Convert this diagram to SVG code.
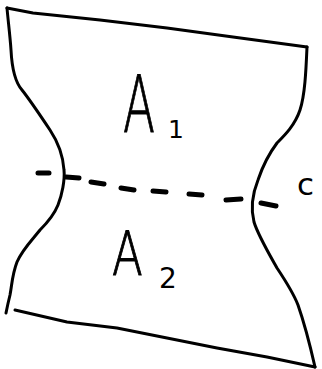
<svg xmlns="http://www.w3.org/2000/svg" width="322" height="369" viewBox="0 0 322 369">
<style>
.edge{fill:none;stroke:#000;stroke-width:3;stroke-linecap:round;stroke-linejoin:round}
.cut{fill:none;stroke:#000;stroke-width:5;stroke-linecap:round}
.big{font-family:"DejaVu Sans","Liberation Sans",sans-serif;font-weight:200;fill:#000;stroke:#000;stroke-width:1}
.small{font-family:"DejaVu Sans","Liberation Sans",sans-serif;font-weight:normal;fill:#000}
</style>
<rect width="322" height="369" fill="#fff"/>
<g id="outline">
<path class="edge" d="M7,8 L33,13 L100,20 L167,28 L233,37 L307,47"/>
<path class="edge" d="M307,47 C306,70 305,95 300,110 C295,125 285,135 277,143 C268,155 262,168 258,180 C252,195 251,210 254,222 C258,235 268,252 277,268 C285,280 293,292 298,305 C305,325 310,345 315,367"/>
<path class="edge" d="M15,310 L67,322 L117,328 L167,338 L217,348 L267,357 L315,367"/>
<path class="edge" d="M7,8 C8,20 10,35 11,50 C12,70 15,82 22,90 C30,100 40,115 50,130 C58,142 63,155 64,170 C65,180 62,195 58,205 C54,215 48,222 40,230 C32,240 22,250 17,262 C12,275 12,285 10,295 C8,303 7,308 6,313"/>
</g>
<g id="cut-line">
<path class="cut" d="M38,173 L49,173 M66,177 L79,178 M91,182 L104,184 M121,188 L134,190 M153,191 L166,192 M189,194 L202,195 M226,200 L241,199 M261,203 L276,206"/>
</g>
<g id="label-A1">
<text class="big" transform="translate(123,132) scale(0.6,1)" x="0" y="0" font-size="78">A</text>
<text class="small" x="168" y="138" font-size="25">1</text>
</g>
<g id="label-A2">
<text class="big" transform="translate(112,275) scale(0.75,1)" x="0" y="0" font-size="60">A</text>
<text class="small" x="159" y="288" font-size="28">2</text>
</g>
<g id="label-c">
<text class="small" x="297" y="195" font-size="31">c</text>
</g>
</svg>
